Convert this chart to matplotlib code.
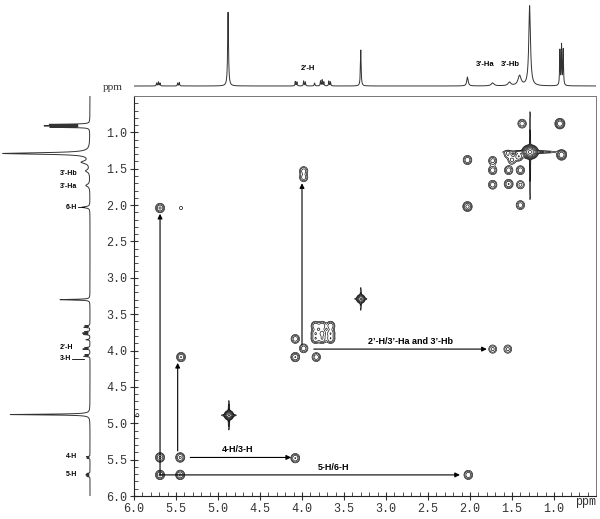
import numpy as np
import matplotlib
matplotlib.use('Agg')
import matplotlib.pyplot as plt
from matplotlib.ticker import MultipleLocator, FuncFormatter, FixedLocator

# ---------------- data ----------------
# 1D 1H spectrum: line positions (ppm), intensities (top trace, left trace), half widths (ppm)
h1_ppm   = [5.73, 5.71, 5.69, 5.48, 5.46, 4.88, 4.08, 4.06, 3.98, 3.96, 3.85, 3.78, 3.76, 3.74,
            3.68, 3.66, 3.30, 2.03, 1.73, 1.53, 1.41, 1.29, 0.93, 0.91, 0.89]
h1_top   = [3, 4, 3, 3, 3.5, 74, 4.5, 4, 5, 4, 3, 5, 6, 4, 5, 4, 36, 9, 3, 3.5, 10, 80, 35, 40, 36]
h1_left  = [3, 4, 3, 3, 3.5, 80, 6, 5, 7, 5, 4, 6, 7, 5, 6, 5, 30, 8, 4, 4, 8, 87, 38, 43, 39]
h1_hwhm  = [0.004, 0.004, 0.004, 0.004, 0.004, 0.006, 0.004, 0.004, 0.004, 0.004, 0.005, 0.004,
            0.004, 0.004, 0.004, 0.004, 0.005, 0.010, 0.020, 0.020, 0.022, 0.012, 0.004, 0.004, 0.004]

# COSY peaks: F2 (x, ppm), F1 (y, ppm), amplitude
cosy_x   = [5.69, 5.45, 5.69, 5.45, 5.69, 5.44, 5.44,
            4.08, 4.08, 4.08, 3.98, 3.83, 3.98, 3.98, 1.73, 1.55,
            3.84, 3.76, 3.66, 3.84, 3.76, 3.66, 3.84, 3.76, 3.66,
            2.02, 2.03, 2.03, 1.40,
            1.73, 1.73, 1.73, 1.54, 1.54, 1.40, 1.40,
            1.38, 0.93, 0.91, 1.50, 1.42, 1.55,
            5.96]
cosy_y   = [5.71, 5.47, 5.47, 5.71, 2.04, 2.04, 4.09,
            5.48, 3.84, 4.09, 3.97, 4.09, 1.53, 1.62, 3.98, 3.98,
            3.66, 3.66, 3.66, 3.76, 3.76, 3.76, 3.84, 3.84, 3.84,
            5.71, 2.02, 1.38, 2.00,
            1.39, 1.52, 1.72, 1.52, 1.71, 1.52, 1.72,
            0.88, 0.88, 1.31, 1.38, 1.33, 1.30,
            4.89]
cosy_amp = [1.3, 1.3, 1.3, 1.3, 1.3, 0.25, 1.2,
            1.2, 1.0, 1.2, 1.0, 1.0, 0.9, 0.9, 0.8, 0.8,
            1.1, 1.1, 1.1, 1.1, 1.4, 1.1, 1.1, 1.1, 1.1,
            1.1, 1.5, 1.1, 1.0,
            0.9, 1.0, 1.0, 1.0, 1.2, 1.0, 0.8,
            1.0, 2.0, 2.0, 0.8, 1.2, 0.7,
            0.25]

# strong diagonal peaks with t1 noise streaks: x, y, amplitude
diag_x   = [4.87, 3.30, 1.285]
diag_y   = [4.89, 3.29, 1.27]
diag_amp = [6.0, 3.5, 14.0]

x_ticks = [6.0, 5.5, 5.0, 4.5, 4.0, 3.5, 3.0, 2.5, 2.0, 1.5, 1.0]
y_ticks = [1.0, 1.5, 2.0, 2.5, 3.0, 3.5, 4.0, 4.5, 5.0, 5.5, 6.0]

# ---------------- figure ----------------
W, H = 600, 519
fig = plt.figure(figsize=(W / 100, H / 100), dpi=100)
fig.patch.set_facecolor('white')

L, R, T, B = 134, 596, 96, 496
ax = fig.add_axes([L / W, (H - B) / H, (R - L) / W, (B - T) / H])
axt = fig.add_axes([L / W, (H - 88) / H, (R - L) / W, 88 / H])
axl = fig.add_axes([0, (H - B) / H, 92 / W, (B - T) / H])

# grid for 2D map
gx = np.arange(0.45, 6.05, 0.004)
gy = np.arange(0.45, 6.05, 0.004)
Z = np.zeros((gy.size, gx.size))


def add(x0, y0, a, sx, sy):
    global Z
    Z += a * np.outer(np.exp(-0.5 * ((gy - y0) / sy) ** 2), np.exp(-0.5 * ((gx - x0) / sx) ** 2))


for x0, y0, a in zip(cosy_x, cosy_y, cosy_amp):
    add(x0, y0, a, 0.028, 0.034)

for i, (x0, y0, a) in enumerate(zip(diag_x, diag_y, diag_amp)):
    if i == 2:
        add(x0, y0, a, 0.035, 0.035)
        add(x0, 1.32, 0.5, 0.006, 0.45)      # vertical streak
        add(1.28, y0, 1.0, 0.17, 0.011)      # horizontal streak
    else:
        add(x0, y0, a, 0.022, 0.026)
        add(x0, y0, a * 0.14, 0.006, 0.12)
        add(x0, y0, a * 0.16, 0.05, 0.008)

levels = 0.2 * 1.8 ** np.arange(0, 12)
ax.contour(gx, gy, Z, levels=levels, colors='black', linewidths=0.45)

ax.set_xlim(6.0, 0.5)
ax.set_ylim(6.0, 0.5)

mono = 'Liberation Mono'
ax.xaxis.set_major_locator(FixedLocator(x_ticks))
ax.yaxis.set_major_locator(FixedLocator(y_ticks))
ax.xaxis.set_minor_locator(MultipleLocator(0.1))
ax.yaxis.set_minor_locator(MultipleLocator(0.1))
fmt = FuncFormatter(lambda v, p: '%.1f' % v)
ax.xaxis.set_major_formatter(fmt)
ax.yaxis.set_major_formatter(fmt)
ax.tick_params(which='major', direction='inout', length=6, width=0.8, colors='#333333',
               labelsize=8.5, pad=2)
ax.tick_params(which='minor', direction='in', length=3, width=0.6, colors='#333333')
for lab in ax.get_xticklabels() + ax.get_yticklabels():
    lab.set_fontfamily(mono)
for s in ['top', 'right']:
    ax.spines[s].set_color('#777777')
    ax.spines[s].set_linewidth(0.7)
for s in ['left', 'bottom']:
    ax.spines[s].set_color('#222222')
    ax.spines[s].set_linewidth(0.8)

ax.text(0.63, 6.0, 'ppm', fontfamily=mono, fontsize=8.5, color='#333333',
        ha='center', va='top', transform=ax.transData, clip_on=False)

# arrows
ap = dict(arrowstyle='-|>', lw=0.8, color='black', mutation_scale=7, shrinkA=0, shrinkB=0)
ax.annotate('', xy=(5.69, 2.12), xytext=(5.69, 5.71), arrowprops=ap)
ax.annotate('', xy=(5.48, 4.17), xytext=(5.48, 5.38), arrowprops=ap)
ax.annotate('', xy=(4.13, 5.47), xytext=(5.33, 5.47), arrowprops=ap)
ax.annotate('', xy=(2.12, 5.71), xytext=(5.69, 5.71), arrowprops=ap)
ax.annotate('', xy=(4.0, 1.70), xytext=(4.0, 3.92), arrowprops=ap)
ax.annotate('', xy=(1.80, 3.98), xytext=(3.86, 3.98), arrowprops=ap)

bold = dict(fontfamily='Liberation Sans', fontweight='bold', fontsize=6.5, color='black')
ax.text(4.77, 5.36, '4-H/3-H', ha='center', va='center', **bold)
ax.text(3.63, 5.61, '5-H/6-H', ha='center', va='center', **bold)
ax.text(2.71, 3.88, '2\u2019-H/3\u2019-Ha and 3\u2019-Hb', ha='center', va='center', **bold)

# ---------------- 1D traces ----------------
px = np.linspace(0.5, 6.0, 6000)


def trace(heights):
    s = np.zeros_like(px)
    for p, h, w in zip(h1_ppm, heights, h1_hwhm):
        s += h / (1 + ((px - p) / w) ** 2)
    return s

axt.plot(px, trace(h1_top), color='#333333', lw=0.7)
axt.set_xlim(6.0, 0.5)
axt.set_ylim(-2, 86)
axt.axis('off')
small = dict(fontfamily='Liberation Sans', fontweight='bold', fontsize=5.5, color='black')
axt.text(3.93, 14, '2\u2019-H', ha='center', va='bottom', **small)
axt.text(1.82, 18, '3\u2019-Ha', ha='center', va='bottom', **small)
axt.text(1.52, 18, '3\u2019-Hb', ha='center', va='bottom', **small)
fig.text(113 / W, (H - 88) / H, 'ppm', fontfamily='Liberation Serif', fontsize=8,
         color='#333333', ha='center', va='center')

axl.plot(trace(h1_left), px, color='#333333', lw=0.7)
axl.set_xlim(90, -2)
axl.set_ylim(6.0, 0.5)
axl.axis('off')
sm2 = dict(fontfamily='Liberation Sans', fontweight='bold', fontsize=5, color='black')
axl.text(13, 1.56, '3\u2019-Hb', ha='right', va='center', **sm2)
axl.text(13, 1.75, '3\u2019-Ha', ha='right', va='center', **sm2)
axl.text(13, 2.03, '6-H', ha='right', va='center', **sm2)
axl.plot([12, 6], [2.03, 2.03], color='black', lw=0.6)
axl.text(17, 3.96, '2\u2019-H', ha='right', va='center', **sm2)
axl.text(19, 4.11, '3-H', ha='right', va='center', **sm2)
axl.plot([18, 6], [4.11, 4.11], color='black', lw=0.6)
axl.text(13, 5.45, '4-H', ha='right', va='center', **sm2)
axl.text(13, 5.71, '5-H', ha='right', va='center', **sm2)

fig.savefig('out.png', dpi=100, facecolor='white')
